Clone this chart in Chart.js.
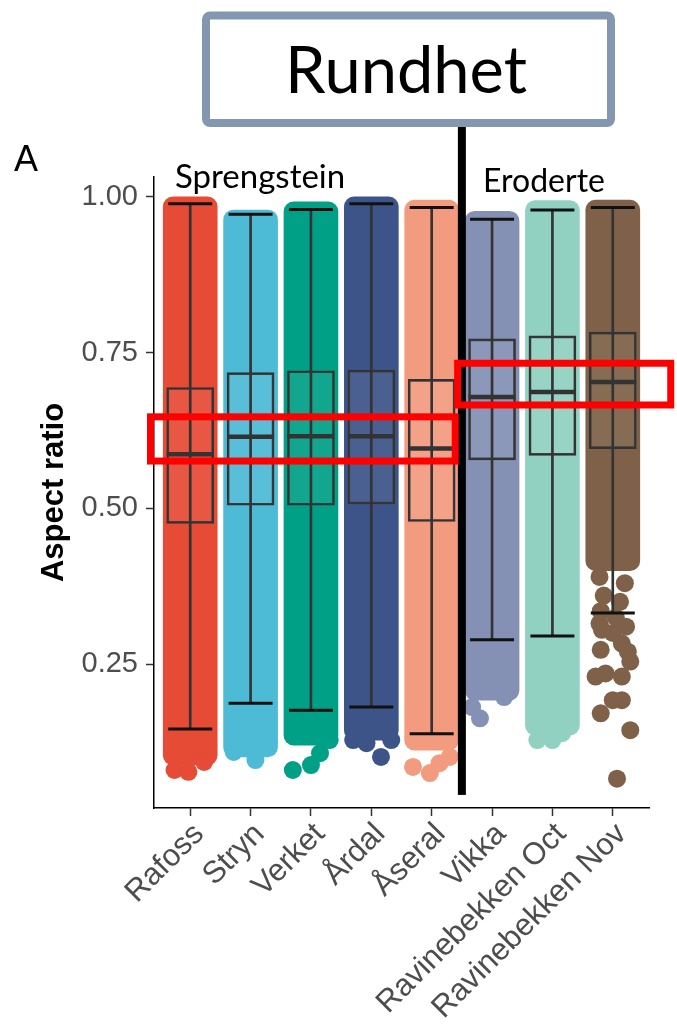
<!DOCTYPE html>
<html>
<head>
<meta charset="utf-8">
<script src="https://cdn.jsdelivr.net/npm/chart.js@4.4.1/dist/chart.umd.min.js"></script>
<style>
  html, body { margin: 0; padding: 0; background: #fff; }
  canvas { display: block; }
</style>
</head>
<body>
<canvas id="aspect-chart" width="677" height="1024"></canvas>
<script>
const CATEGORIES = ["Rafoss", "Stryn", "Verket", "Årdal", "Åseral", "Vikka", "Ravinebekken Oct", "Ravinebekken Nov"];
const LOWER_WHISKER = [0.146, 0.187, 0.176, 0.181, 0.138, 0.289, 0.295, 0.332];
const Q1 = [0.476, 0.505, 0.505, 0.507, 0.479, 0.578, 0.585, 0.596];
const MEDIAN = [0.587, 0.615, 0.616, 0.616, 0.596, 0.679, 0.687, 0.703];
const Q3 = [0.694, 0.718, 0.721, 0.722, 0.707, 0.772, 0.777, 0.783];
const UPPER_WHISKER = [0.989, 0.972, 0.980, 0.989, 0.983, 0.964, 0.979, 0.983];

// extent of the dense point cloud per site
const CLOUD_LOW = [0.088, 0.101, 0.12, 0.128, 0.112, 0.192, 0.136, 0.40];
const CLOUD_HIGH = [1.0, 0.979, 0.992, 1.0, 0.995, 0.977, 0.994, 0.995];

// single points sticking out below the clouds: [site index, jitter, value]
const LOOSE_POINTS = [
  [0, -0.26, 0.080], [0, 0.23, 0.093], [0, -0.03, 0.077],
  [1, 0.08, 0.096], [1, -0.28, 0.109],
  [2, -0.3, 0.080], [2, 0.0, 0.088], [2, 0.31, 0.128], [2, 0.15, 0.107],
  [3, 0.16, 0.101], [3, -0.3, 0.128], [3, 0.33, 0.128], [3, -0.08, 0.123],
  [4, -0.03, 0.075], [4, -0.31, 0.085], [4, 0.3, 0.101], [4, 0.13, 0.091],
  [5, -0.2, 0.163], [5, 0.2, 0.197], [5, -0.33, 0.181],
  [6, -0.25, 0.128], [6, 0.0, 0.128], [6, 0.16, 0.139],
  [7, -0.22, 0.39], [7, 0.2, 0.38], [7, -0.15, 0.36], [7, 0.12, 0.35], [7, -0.2, 0.335],
  [7, 0.05, 0.325], [7, -0.22, 0.315], [7, 0.22, 0.31], [7, 0.0, 0.30], [7, -0.18, 0.305],
  [7, -0.20, 0.273], [7, -0.285, 0.230], [7, -0.12, 0.235], [7, 0.15, 0.230],
  [7, 0.29, 0.254], [7, 0.15, 0.283], [7, 0.25, 0.27],
  [7, -0.20, 0.171], [7, 0.0, 0.192], [7, 0.15, 0.192], [7, 0.29, 0.144], [7, 0.07, 0.066],
];

const Y_TICKS = [0.25, 0.5, 0.75, 1.0];

const SITE_COLORS = ["#E64B35", "#4DBBD5", "#00A087", "#3C5488", "#F39B7F", "#8491B4", "#91D1C2", "#7E6148"];

// overlay marks, in data units
const SEPARATOR = { x: 5.5, yLow: 0.04 };
const HIGHLIGHTS = [
  { x0: 0.342, x1: 5.39, y0: 0.576, y1: 0.647 },
  { x0: 5.43, x1: 8.96, y0: 0.666, y1: 0.733 },
];

const pos = (i) => i + 1;

const overlay = {
  id: "overlay",
  afterDraw(chart) {
    const { ctx } = chart;
    const { x, y } = chart.scales;
    ctx.save();

    // title box
    ctx.strokeStyle = "#8497B0";
    ctx.lineWidth = 8;
    ctx.beginPath();
    ctx.roundRect(206, 15.5, 405, 107.5, 4);
    ctx.stroke();
    ctx.fillStyle = "#000";
    ctx.font = "65px Lato, 'Open Sans', sans-serif";
    ctx.textAlign = "center";
    ctx.textBaseline = "alphabetic";
    ctx.fillText("Rundhet", 406, 93);

    // divider between groups
    ctx.fillStyle = "#000";
    const sx = x.getPixelForValue(SEPARATOR.x);
    ctx.fillRect(sx - 4, 127, 8, y.getPixelForValue(SEPARATOR.yLow) - 127);

    // highlight boxes
    ctx.strokeStyle = "#FF0000";
    ctx.lineWidth = 7;
    HIGHLIGHTS.forEach((h) => {
      const l = x.getPixelForValue(h.x0);
      const r = x.getPixelForValue(h.x1);
      const t = y.getPixelForValue(h.y1);
      const b = y.getPixelForValue(h.y0);
      ctx.strokeRect(l, t, r - l, b - t);
    });

    // labels
    ctx.textAlign = "left";
    ctx.fillStyle = "#000";
    ctx.font = "36px 'Liberation Sans', Arial, sans-serif";
    ctx.fillText("A", 14, 171);
    ctx.font = "33px Lato, 'Open Sans', sans-serif";
    ctx.fillText("Sprengstein", 175, 188);
    ctx.font = "32px Lato, 'Open Sans', sans-serif";
    ctx.fillText("Eroderte", 483, 192);
    ctx.restore();
  },
};

function createChart(ctx) {
  Chart.defaults.font.family = "'Liberation Sans', Arial, sans-serif";

  const datasets = [
    {
      type: "bar",
      order: 6,
      data: CATEGORIES.map((c, i) => ({ x: pos(i), y: [CLOUD_LOW[i], CLOUD_HIGH[i]] })),
      backgroundColor: SITE_COLORS,
      barThickness: 54,
      borderRadius: 10,
      borderSkipped: false,
      grouped: false,
    },
    {
      type: "scatter",
      order: 5,
      data: LOOSE_POINTS.map((p) => ({ x: pos(p[0]) + p[1], y: p[2] })),
      pointBackgroundColor: LOOSE_POINTS.map((p) => SITE_COLORS[p[0]]),
      pointBorderWidth: 0,
      pointRadius: 9,
    },
    {
      type: "bar",
      order: 4,
      data: CATEGORIES.map((c, i) => ({ x: pos(i), y: [Q1[i], Q3[i]] })),
      backgroundColor: "rgba(255,255,255,0.07)",
      borderColor: "#333333",
      borderWidth: 2,
      borderSkipped: false,
      barThickness: 47,
      grouped: false,
    },
    {
      type: "bar",
      order: 3,
      data: CATEGORIES.map((c, i) => ({ x: pos(i), y: [LOWER_WHISKER[i], UPPER_WHISKER[i]] })),
      backgroundColor: "#333333",
      barThickness: 2,
      grouped: false,
    },
    {
      type: "scatter",
      order: 2,
      data: CATEGORIES.map((c, i) => ({ x: pos(i), y: MEDIAN[i] })),
      pointStyle: "line",
      pointRadius: 23.5,
      pointBorderColor: "#333333",
      pointBorderWidth: 4.5,
    },
    {
      type: "scatter",
      order: 1,
      data: CATEGORIES.map((c, i) => ({ x: pos(i), y: LOWER_WHISKER[i] }))
        .concat(CATEGORIES.map((c, i) => ({ x: pos(i), y: UPPER_WHISKER[i] }))),
      pointStyle: "line",
      pointRadius: 22,
      pointBorderColor: "#111111",
      pointBorderWidth: 3,
    },
  ];

  const options = {
    responsive: false,
    animation: false,
    events: [],
    layout: { padding: { top: 177, right: 25, left: 0, bottom: 0 } },
    scales: {
      x: {
        type: "linear",
        offset: false,
        min: 0.4,
        max: 8.6,
        afterBuildTicks: (scale) => {
          scale.ticks = CATEGORIES.map((c, i) => ({ value: pos(i) }));
        },
        afterFit: (scale) => {
          scale.height = 216;
        },
        ticks: {
          autoSkip: false,
          minRotation: 45,
          maxRotation: 45,
          padding: 0,
          labelOffset: 9,
          color: "#4D4D4D",
          font: { size: 31 },
          callback: (v) => CATEGORIES[v - 1],
        },
        grid: { offset: false, drawOnChartArea: false, tickLength: 8, tickColor: "#333333", tickWidth: 1.5 },
        border: { color: "#000", width: 1.5 },
      },
      y: {
        type: "linear",
        min: 0.019,
        max: 1.032,
        afterBuildTicks: (scale) => {
          scale.ticks = Y_TICKS.map((v) => ({ value: v }));
        },
        afterFit: (scale) => {
          scale.width = 154;
        },
        ticks: {
          padding: 8,
          color: "#4D4D4D",
          font: { size: 29 },
          callback: (v) => v.toFixed(2),
        },
        grid: { drawOnChartArea: false, tickLength: 8, tickColor: "#333333", tickWidth: 1.5 },
        border: { color: "#000", width: 1.5 },
        title: {
          display: true,
          text: "Aspect ratio",
          color: "#000",
          font: { size: 31, weight: "bold" },
          padding: { top: 36, bottom: 0 },
        },
      },
    },
    plugins: {
      legend: { display: false },
      tooltip: { enabled: false },
    },
  };

  return new Chart(ctx, {
    type: "bar",
    data: { datasets: datasets },
    options: options,
    plugins: [overlay],
  });
}

async function mount() {
  try {
    await Promise.all([
      document.fonts.load("65px Lato"),
      document.fonts.load("29px 'Liberation Sans'"),
      document.fonts.load("bold 31px 'Liberation Sans'"),
    ]);
  } catch (e) {}
  createChart(document.getElementById("aspect-chart").getContext("2d"));
}

document.addEventListener("DOMContentLoaded", async () => await mount());
</script>
</body>
</html>
